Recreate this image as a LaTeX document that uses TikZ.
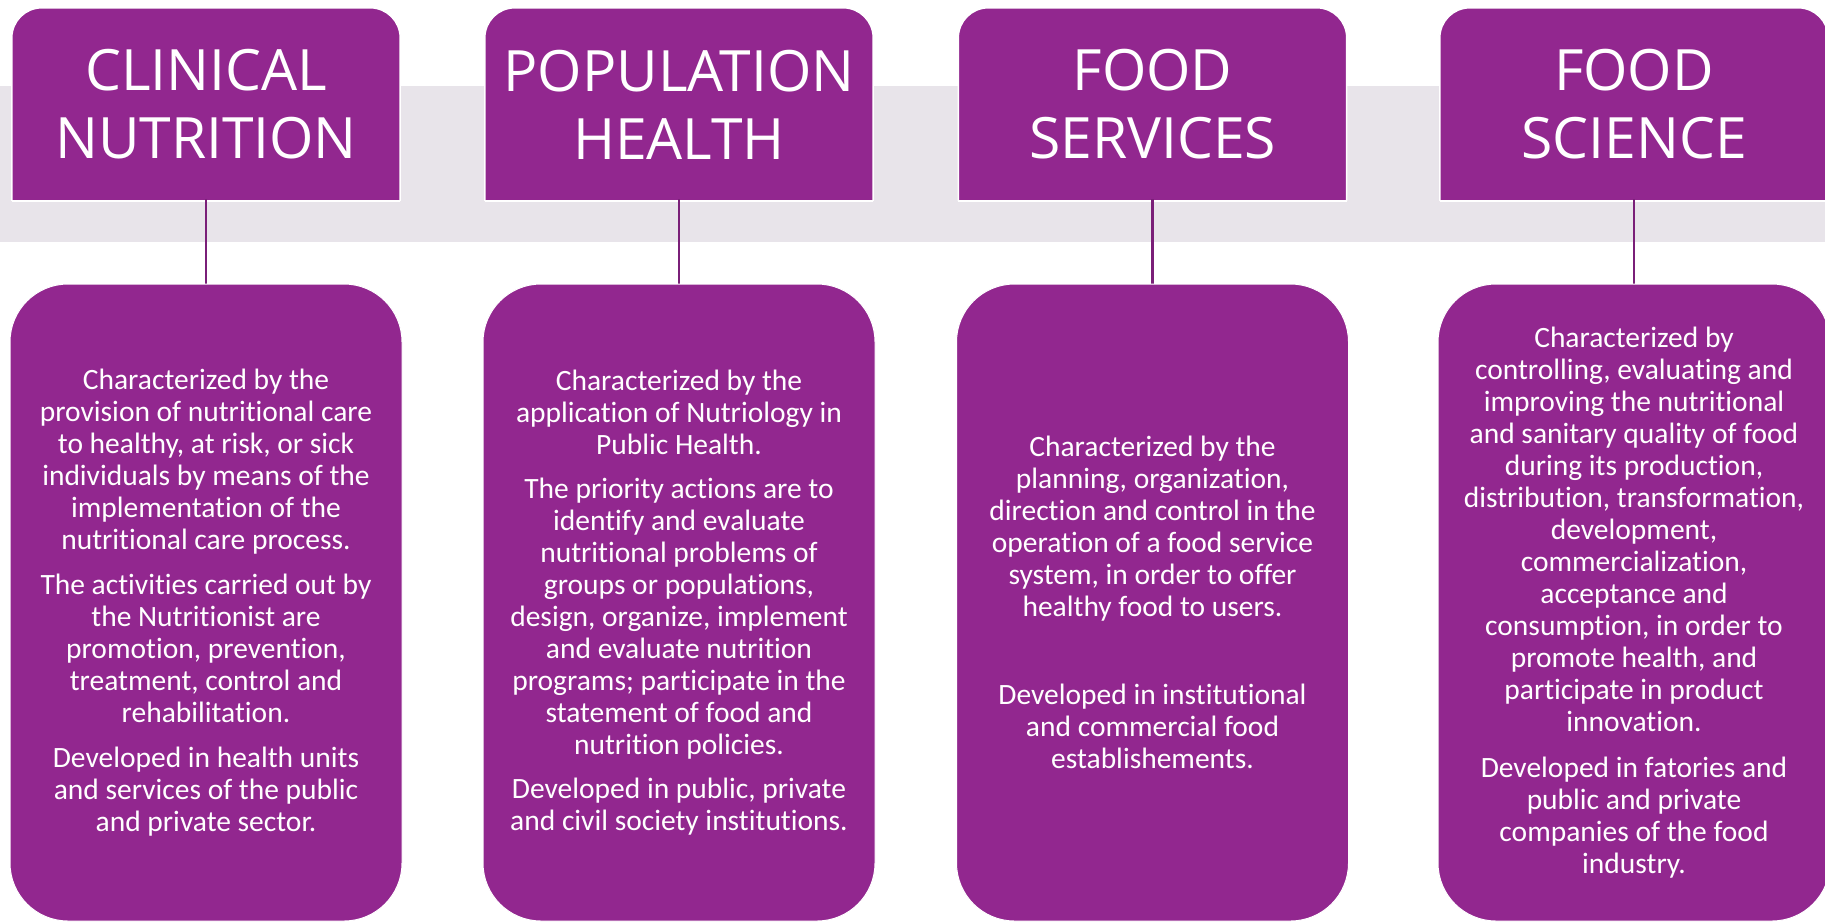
\documentclass[tikz,border=0pt]{standalone}
\usepackage{fontspec}
\setmainfont{Carlito}[Ligatures=NoCommon]
\newfontfamily\hdrfont{Open Sans}
\usetikzlibrary{backgrounds}
\definecolor{nutpurple}{HTML}{92278F}
\definecolor{nutline}{HTML}{7A1F78}
\definecolor{nutband}{HTML}{E8E4EA}
\tikzset{
  hdrbox/.style={inner sep=0pt, minimum width=388pt, minimum height=193pt,
    text=white, align=center, font=\hdrfont\fontsize{57}{68}\selectfont},
  bodybox/.style={draw=white, line width=1pt, fill=nutpurple, rounded corners=58pt,
    inner sep=0pt, minimum width=392pt, minimum height=637pt,
    text=white, align=center, font=\fontsize{29.5}{32}\selectfont},
  hdrshape/.style={fill=nutpurple, draw=white, line width=1.5pt, rounded corners=30pt},
  conn/.style={draw=nutline, line width=2.5pt},
}
\begin{document}
\begin{tikzpicture}[x=1pt, y=-1pt]
\useasboundingbox (0,0) rectangle (1825,921);
\clip (0,0) rectangle (1825,921);

\node[hdrbox] (h1) at (206,104.5) {CLINICAL\\NUTRITION};
\node[hdrbox] (h2) at (679,104.5) {POPULATION\\HEALTH};
\node[hdrbox] (h3) at (1152.5,104.5) {FOOD\\SERVICES};
\node[hdrbox] (h4) at (1634,104.5) {FOOD\\SCIENCE};

\node[bodybox] (b1) at (206,602.5) {Characterized by the\\
provision of nutritional care\\
to healthy, at risk, or sick\\
individuals by means of the\\
implementation of the\\
nutritional care process.\\[13pt]
The activities carried out by\\
the Nutritionist are\\
promotion, prevention,\\
treatment, control and\\
rehabilitation.\\[13pt]
Developed in health units\\
and services of the public\\
and private sector.};

\node[bodybox] (b2) at (679,602.5) {Characterized by the\\
application of Nutriology in\\
Public Health.\\[12pt]
The priority actions are to\\
identify and evaluate\\
nutritional problems of\\
groups or populations,\\
design, organize, implement\\
and evaluate nutrition\\
programs; participate in the\\
statement of food and\\
nutrition policies.\\[12pt]
Developed in public, private\\
and civil society institutions.};

\node[bodybox] (b3) at (1152.5,602.5) {Characterized by the\\
planning, organization,\\
direction and control in the\\
operation of a food service\\
system, in order to offer\\
healthy food to users.\\[56pt]
Developed in institutional\\
and commercial food\\
establishements.};

\node[bodybox] (b4) at (1634,602.5) {Characterized by\\
controlling, evaluating and\\
improving the nutritional\\
and sanitary quality of food\\
during its production,\\
distribution, transformation,\\
development,\\
commercialization,\\
acceptance and\\
consumption, in order to\\
promote health, and\\
participate in product\\
innovation.\\[14pt]
Developed in fatories and\\
public and private\\
companies of the food\\
industry.};

\begin{scope}[on background layer]
  \fill[nutband] (0,86) rectangle (1825,242);
  \foreach \h in {h1,h2,h3,h4} {
    \path[hdrshape] (\h.south west) -- (\h.north west) -- (\h.north east) -- (\h.south east);
    \draw[white, line width=1.5pt] (\h.south west) -- (\h.south east);
  }
  \draw[conn] ([yshift=2pt]h1.south) -- (b1.north);
  \draw[conn] ([yshift=2pt]h2.south) -- (b2.north);
  \draw[conn] ([yshift=2pt]h3.south) -- (b3.north);
  \draw[conn] ([yshift=2pt]h4.south) -- (b4.north);
\end{scope}
\end{tikzpicture}
\end{document}
